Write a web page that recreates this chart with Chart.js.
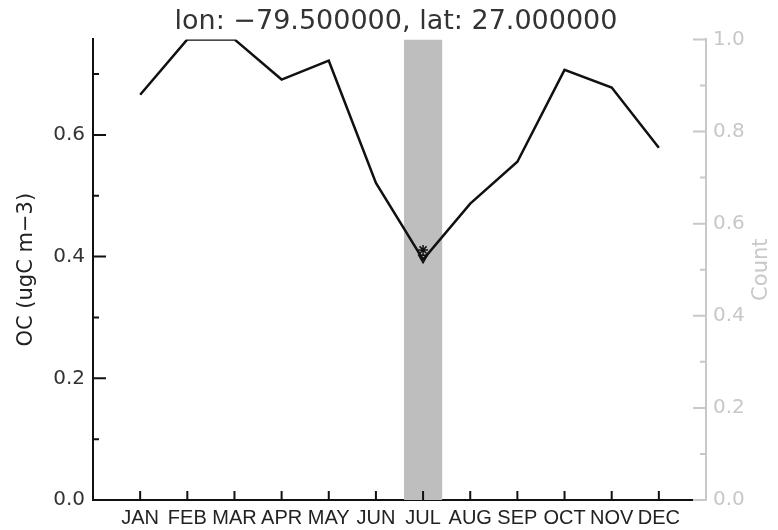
<!DOCTYPE html>
<html>
<head>
<meta charset="utf-8">
<script src="https://cdn.jsdelivr.net/npm/chart.js@4.4.0/dist/chart.umd.min.js"></script>
<style>
  body { margin: 0; background: #fff; }
</style>
</head>
<body>
<canvas id="ocChart" width="778" height="530"></canvas>

<script>
// monthly mean OC at the grid point
const months = ['JAN','FEB','MAR','APR','MAY','JUN','JUL','AUG','SEP','OCT','NOV','DEC'];
const ocValues = [0.666, 0.757, 0.757, 0.691, 0.722, 0.521, 0.395, 0.487, 0.556, 0.707, 0.678, 0.579];
// count bar (only July has an obs)
const counts = [0, 0, 0, 0, 0, 0, 1, 0, 0, 0, 0, 0];
// observation markers in July
const obsMonth = [7, 7];
const obsValues = [0.411, 0.398];

const ocMax = 0.757;

// ticks drawn inward, like the original plot
const inwardTicks = {
    id: 'inwardTicks',
    afterDraw(chart) {
        const ctx = chart.ctx;
        const x = chart.scales.x, y = chart.scales.y, y2 = chart.scales.y2;
        const area = chart.chartArea;
        ctx.save();
        ctx.lineWidth = 2;
        ctx.strokeStyle = '#111';
        ctx.beginPath();
        months.forEach(function(m, i) {
            let px = x.getPixelForValue(i + 1);
            ctx.moveTo(px, area.bottom);
            ctx.lineTo(px, area.bottom - 9);
        });
        y.ticks.forEach(function(t) {
            let py = y.getPixelForValue(t.value);
            let major = Math.round(t.value * 10) % 2 === 0;
            ctx.moveTo(area.left, py);
            ctx.lineTo(area.left + (major ? 13 : 6), py);
        });
        ctx.stroke();

        ctx.strokeStyle = '#c8c8c8';
        ctx.beginPath();
        y2.ticks.forEach(function(t) {
            let py = y2.getPixelForValue(t.value);
            let major = Math.round(t.value * 10) % 2 === 0;
            ctx.moveTo(area.right, py);
            ctx.lineTo(area.right - (major ? 13 : 6), py);
        });
        ctx.stroke();

        // right axis title reads bottom to top
        ctx.translate(762, (area.top + area.bottom) / 2);
        ctx.rotate(-Math.PI / 2);
        ctx.fillStyle = '#c8c8c8';
        ctx.font = '21px "DejaVu Sans"';
        ctx.textAlign = 'center';
        ctx.textBaseline = 'middle';
        ctx.fillText('Count', 0, 0);
        ctx.restore();
    }
};

var ctx = document.getElementById('ocChart').getContext('2d');
var chart = new Chart(ctx, {
    type: 'bar',
    data: {
        datasets: [{
            type: 'scatter',
            data: obsMonth.map(function(m, i) { return {x: m, y: obsValues[i]}; }),
            yAxisID: 'y',
            pointStyle: ['star', 'triangle'],
            rotation: [0, 180],
            radius: 5,
            borderColor: '#111',
            backgroundColor: 'rgba(0,0,0,0)',
            borderWidth: 1.5,
            order: 0
        }, {
            type: 'line',
            data: ocValues.map(function(v, i) { return {x: i + 1, y: v}; }),
            yAxisID: 'y',
            borderColor: '#111',
            borderWidth: 2.5,
            pointRadius: 0,
            tension: 0,
            fill: false,
            order: 1
        }, {
            type: 'bar',
            data: counts.map(function(c, i) { return {x: i + 1, y: c}; }),
            yAxisID: 'y2',
            backgroundColor: '#bebebe',
            barPercentage: 1,
            categoryPercentage: 0.81,
            order: 2
        }]
    },
    options: {
        responsive: false,
        animation: false,
        layout: { padding: { left: 14 } },
        plugins: {
            legend: { display: false },
            tooltip: { enabled: false },
            title: {
                display: true,
                text: 'lon: \u221279.500000, lat: 27.000000',
                color: '#333',
                font: { family: 'DejaVu Sans', size: 27, weight: 'normal' },
                padding: { top: 6, bottom: 1 }
            }
        },
        scales: {
            x: {
                type: 'linear',
                position: 'bottom',
                min: 0,
                max: 13,
                offset: false,
                grid: { display: false, drawTicks: false },
                border: { color: '#111', width: 2 },
                ticks: {
                    stepSize: 1,
                    padding: 6,
                    color: '#222',
                    font: { family: 'Liberation Sans', size: 20 },
                    maxRotation: 0,
                    autoSkip: false,
                    callback: function(v) { return months[v - 1] || ''; }
                },
                afterFit: function(s) { s.height = 30; }
            },
            y: {
                position: 'left',
                min: 0,
                max: ocMax,
                grid: { display: false, drawTicks: false },
                border: { color: '#111', width: 2 },
                ticks: {
                    stepSize: 0.1,
                    includeBounds: false,
                    padding: 8,
                    color: '#333',
                    font: { family: 'DejaVu Sans', size: 20 },
                    callback: function(v) {
                        return Math.round(v * 10) % 2 === 0 ? v.toFixed(1) : '';
                    }
                },
                title: {
                    display: true,
                    text: 'OC (ugC m\u22123)',
                    color: '#222',
                    font: { family: 'DejaVu Sans', size: 21 },
                    padding: { top: 0 }
                },
                afterFit: function(s) { s.width = 79; }
            },
            y2: {
                position: 'right',
                min: 0,
                max: 1,
                grid: { display: false, drawTicks: false },
                border: { color: '#c8c8c8', width: 2 },
                ticks: {
                    stepSize: 0.1,
                    padding: 7,
                    color: '#c8c8c8',
                    font: { family: 'DejaVu Sans', size: 20 },
                    callback: function(v) {
                        return Math.round(v * 10) % 2 === 0 ? v.toFixed(1) : '';
                    }
                },
                afterFit: function(s) { s.width = 72; }
            }
        }
    },
    plugins: [inwardTicks]
});
</script>
</body>
</html>
